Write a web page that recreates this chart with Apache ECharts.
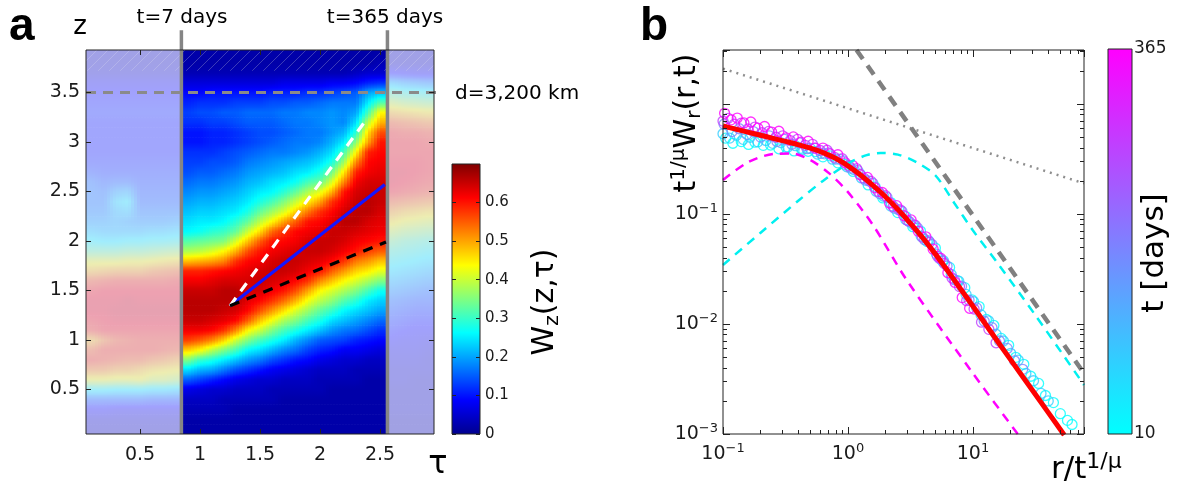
<!DOCTYPE html>
<html><head><meta charset="utf-8">
<script src="https://cdn.jsdelivr.net/npm/echarts@6/dist/echarts.min.js"></script>
<style>html,body{margin:0;padding:0;background:#fff}#c{width:1177px;height:487px}</style>
</head><body><div id="c"></div>
<script>
// ---------------- Panel a data ----------------
const tauCenters = [0.1,0.2,0.3,0.4,0.5,0.6,0.7,0.8,0.9,1.0,1.1,1.2,1.3,1.4,1.5,1.6,1.7,1.8,1.9,2.0,2.1,2.2,2.3,2.4,2.5,2.6,2.7,2.8,2.9];
const zCenters = [0.1,0.2,0.3,0.4,0.5,0.6,0.7,0.8,0.9,1.0,1.1,1.2,1.3,1.4,1.5,1.6,1.7,1.8,1.9,2.0,2.1,2.2,2.3,2.4,2.5,2.6,2.7,2.8,2.9,3.0,3.1,3.2,3.3,3.4,3.5,3.6,3.7,3.8,3.9];
// Wz values: one row per tau column, z ascending 0.1 .. 3.9
const wzByTau = [
[.03,.04,.08,.15,.27,.43,.52,.58,.55,.48,.58,.6,.62,.62,.6,.56,.48,.42,.33,.27,.23,.2,.18,.17,.17,.16,.13,.11,.1,.1,.1,.1,.11,.1,.09,.07,.04,.03,.03],
[.03,.04,.08,.15,.27,.43,.52,.57,.58,.53,.6,.61,.62,.62,.61,.57,.49,.42,.33,.26,.22,.2,.18,.17,.16,.14,.12,.11,.1,.1,.1,.1,.11,.1,.09,.07,.04,.03,.03],
[.03,.04,.07,.15,.26,.42,.5,.56,.58,.56,.6,.62,.63,.62,.61,.58,.5,.42,.33,.26,.22,.21,.22,.24,.2,.15,.12,.11,.1,.1,.1,.1,.11,.1,.09,.07,.04,.03,.03],
[.03,.04,.07,.15,.26,.42,.5,.55,.58,.57,.6,.62,.63,.63,.61,.58,.5,.43,.34,.27,.22,.2,.23,.26,.21,.15,.12,.11,.1,.1,.1,.1,.11,.1,.09,.07,.04,.03,.03],
[.03,.04,.07,.15,.26,.43,.48,.55,.58,.58,.6,.62,.63,.62,.61,.58,.5,.43,.34,.27,.22,.19,.17,.15,.14,.13,.12,.11,.1,.1,.1,.1,.11,.1,.09,.07,.04,.03,.03],
[.03,.04,.07,.14,.25,.4,.46,.53,.58,.58,.6,.62,.63,.62,.61,.58,.52,.44,.35,.28,.23,.19,.17,.15,.14,.13,.12,.11,.1,.1,.1,.1,.11,.1,.09,.07,.04,.03,.03],
[.03,.04,.07,.14,.25,.4,.45,.52,.57,.58,.6,.62,.63,.62,.61,.58,.53,.45,.36,.28,.23,.19,.17,.15,.14,.13,.12,.11,.1,.1,.1,.1,.11,.1,.09,.07,.04,.03,.03],
[.03,.04,.07,.14,.24,.38,.44,.5,.56,.58,.6,.62,.63,.62,.61,.59,.54,.46,.37,.29,.24,.2,.17,.15,.14,.13,.12,.11,.1,.1,.1,.1,.11,.1,.09,.07,.04,.03,.03],
[.02,.02,.03,.04,.07,.15,.24,.35,.47,.57,.62,.65,.66,.66,.65,.62,.59,.48,.38,.32,.26,.24,.22,.2,.18,.16,.14,.13,.12,.1,.1,.12,.13,.11,.09,.06,.03,.02,.02],
[.02,.02,.03,.04,.06,.13,.21,.3,.44,.55,.62,.65,.66,.66,.65,.62,.59,.49,.39,.33,.27,.25,.23,.21,.19,.17,.15,.13,.12,.1,.1,.12,.14,.12,.09,.06,.03,.02,.02],
[.02,.02,.03,.04,.05,.11,.2,.28,.39,.52,.61,.64,.66,.66,.65,.63,.6,.5,.41,.34,.29,.25,.23,.21,.19,.17,.15,.14,.12,.11,.11,.13,.14,.12,.1,.06,.03,.02,.02],
[.02,.02,.03,.03,.05,.09,.17,.25,.35,.47,.58,.63,.65,.66,.66,.64,.61,.52,.44,.35,.3,.26,.24,.22,.2,.18,.16,.14,.13,.11,.11,.13,.15,.12,.1,.06,.03,.02,.02],
[.02,.02,.02,.03,.04,.07,.14,.22,.31,.4,.52,.61,.64,.66,.66,.64,.62,.58,.49,.41,.33,.29,.25,.23,.21,.19,.17,.15,.14,.12,.12,.14,.15,.13,.1,.06,.03,.02,.02],
[.02,.02,.02,.03,.04,.06,.12,.19,.26,.35,.44,.55,.61,.63,.64,.64,.63,.61,.56,.48,.4,.33,.28,.25,.23,.21,.19,.17,.15,.13,.13,.15,.16,.13,.1,.06,.03,.02,.02],
[.02,.02,.02,.03,.04,.05,.1,.17,.24,.31,.4,.48,.56,.61,.64,.65,.64,.62,.6,.55,.46,.39,.33,.28,.25,.22,.2,.18,.16,.14,.14,.15,.16,.13,.1,.06,.03,.02,.02],
[.02,.02,.02,.03,.03,.05,.08,.14,.21,.28,.35,.43,.51,.58,.62,.64,.65,.64,.62,.6,.54,.44,.37,.31,.26,.24,.21,.19,.17,.15,.14,.15,.16,.14,.11,.06,.03,.02,.02],
[.02,.02,.02,.02,.03,.04,.07,.12,.18,.25,.31,.38,.46,.54,.6,.63,.65,.65,.63,.61,.58,.5,.41,.35,.29,.25,.22,.2,.17,.16,.15,.16,.17,.14,.11,.07,.03,.02,.02],
[.02,.02,.02,.02,.03,.04,.06,.1,.16,.21,.28,.35,.41,.49,.56,.61,.64,.65,.64,.62,.61,.55,.47,.4,.33,.27,.24,.21,.18,.17,.16,.17,.17,.15,.11,.07,.03,.02,.02],
[.02,.02,.02,.02,.03,.04,.05,.09,.13,.18,.25,.31,.37,.43,.5,.58,.62,.64,.65,.64,.62,.6,.53,.45,.38,.31,.25,.22,.19,.17,.17,.17,.18,.15,.12,.07,.03,.02,.02],
[.02,.02,.02,.02,.03,.03,.04,.07,.11,.15,.22,.28,.33,.39,.44,.52,.6,.63,.65,.65,.63,.61,.58,.5,.42,.33,.28,.24,.21,.18,.17,.18,.18,.16,.12,.07,.03,.02,.02],
[.02,.02,.02,.02,.02,.03,.04,.06,.1,.14,.19,.24,.3,.36,.41,.48,.55,.61,.64,.65,.65,.63,.61,.58,.49,.41,.34,.28,.24,.21,.19,.19,.19,.17,.13,.08,.03,.02,.02],
[.02,.02,.02,.02,.02,.03,.04,.05,.08,.13,.17,.22,.26,.32,.38,.44,.51,.58,.62,.64,.65,.66,.64,.62,.6,.52,.45,.37,.31,.25,.21,.18,.18,.17,.14,.08,.03,.02,.02],
[.02,.02,.02,.02,.02,.03,.03,.05,.08,.11,.16,.2,.24,.29,.35,.41,.47,.53,.6,.62,.64,.66,.66,.65,.64,.62,.59,.52,.44,.36,.29,.24,.2,.17,.15,.09,.04,.02,.02],
[.02,.02,.02,.02,.02,.02,.03,.04,.07,.1,.14,.18,.22,.25,.31,.38,.45,.51,.57,.61,.63,.64,.66,.66,.65,.64,.62,.61,.59,.5,.46,.39,.31,.25,.2,.11,.05,.02,.02],
[.02,.02,.02,.02,.02,.02,.03,.04,.06,.09,.12,.16,.2,.23,.27,.35,.42,.48,.55,.6,.62,.63,.64,.65,.65,.64,.63,.62,.61,.6,.56,.49,.44,.32,.22,.12,.05,.03,.02],
[.02,.02,.03,.03,.03,.04,.04,.05,.06,.08,.1,.12,.14,.16,.19,.22,.25,.28,.31,.35,.4,.45,.5,.55,.6,.62,.62,.61,.6,.6,.59,.55,.48,.4,.32,.22,.09,.03,.03],
[.02,.02,.03,.03,.03,.04,.04,.05,.06,.07,.09,.11,.13,.15,.18,.21,.24,.27,.3,.33,.38,.43,.48,.54,.59,.61,.62,.61,.6,.6,.58,.54,.47,.38,.3,.2,.08,.03,.03],
[.02,.02,.03,.03,.03,.03,.04,.05,.06,.07,.08,.1,.12,.14,.17,.2,.23,.26,.29,.32,.37,.42,.47,.53,.58,.6,.61,.61,.6,.6,.58,.53,.46,.37,.29,.19,.07,.03,.03],
[.02,.02,.03,.03,.03,.03,.04,.04,.05,.06,.08,.1,.12,.14,.16,.19,.22,.25,.28,.31,.36,.41,.46,.52,.57,.59,.6,.6,.6,.59,.57,.52,.45,.36,.28,.18,.07,.03,.03]
];
const tauRange = [0.05, 2.95];
const zRange = [0.05, 3.93];
const tauTicks = [0.5, 1, 1.5, 2, 2.5];
const zTicks = [0.5, 1, 1.5, 2, 2.5, 3, 3.5];
const wzRange = [0, 0.7];
const wzTicks = [0, 0.1, 0.2, 0.3, 0.4, 0.5, 0.6];
const windowTau = [0.845, 2.562];           // t = 7 days, t = 365 days
const windowLabels = ['t=7 days', 't=365 days'];
const windowLineTopZ = 4.13;
const hatchBottomZ = 3.72;
const depthZ = 3.5, depthLineEndTau = 3.03, depthLabel = 'd=3,200 km';
const fitStart = [1.25, 1.345];
const fitBlueEnd = [2.54, 2.57];
const fitWhiteEnd = [2.40, 3.25];
const fitBlackEnd = [2.55, 1.99];

// ---------------- Panel b data ----------------
const rRange = [0.1, 77.3];
const wrRange = [0.001, 3.1];
const rTicks = [0.1, 1, 10];
const wrTicks = [0.001, 0.01, 0.1];
const tRange = [10, 365];
const groupTimes = [10, 80, 180, 280, 365];
const scatterT10 = [[0.105,0.489],[0.12,0.44],[0.14,0.456],[0.16,0.429],[0.18,0.45],[0.21,0.421],[0.24,0.424],[0.28,0.392],[0.32,0.405],[0.37,0.375],[0.42,0.396],[0.48,0.372],[0.55,0.369],[0.63,0.331],[0.72,0.338],[0.83,0.292],[0.95,0.282],[1.1,0.244],[1.25,0.231],[1.45,0.184],[1.65,0.176],[1.9,0.14],[2.2,0.127],[2.5,0.103],[2.9,0.0948],[3.3,0.0767],[3.8,0.07],[4.3,0.0562],[5.0,0.049],[5.7,0.0372],[6.5,0.0327],[7.5,0.0248],[8.6,0.0214],[9.8,0.0166],[11.2,0.0144],[12.8,0.011],[14.7,0.0097],[16.8,0.0074],[19.3,0.0064],[22,0.00498],[25.5,0.0043],[29,0.00335],[33.5,0.00288],[38,0.00224],[44,0.00193],[50,0.00153],[57,0.00133],[62,0.00122]];
const scatterT80 = [[0.1,0.537],[0.113,0.49],[0.128,0.519],[0.145,0.478],[0.165,0.499],[0.19,0.453],[0.22,0.466],[0.25,0.439],[0.29,0.446],[0.33,0.406],[0.38,0.418],[0.43,0.387],[0.5,0.395],[0.57,0.351],[0.65,0.353],[0.75,0.315],[0.86,0.314],[0.98,0.269],[1.12,0.253],[1.28,0.213],[1.47,0.2],[1.68,0.161],[1.93,0.145],[2.2,0.118],[2.55,0.109],[2.9,0.0891],[3.35,0.0798],[3.85,0.0628],[4.4,0.0574],[5.1,0.0432],[5.8,0.0376],[6.7,0.0282],[7.7,0.0245],[8.8,0.0186],[10.1,0.016],[11.6,0.0121],[13.3,0.0107],[15.3,0.00807],[17.5,0.00701],[20,0.00541],[23,0.0047],[26.5,0.00355],[30.5,0.00305],[35,0.00234],[40,0.002]];
const scatterT180 = [[0.102,0.656],[0.118,0.562],[0.135,0.596],[0.155,0.53],[0.175,0.562],[0.2,0.501],[0.235,0.514],[0.27,0.457],[0.31,0.478],[0.355,0.431],[0.41,0.443],[0.47,0.393],[0.54,0.398],[0.61,0.356],[0.7,0.359],[0.8,0.316],[0.92,0.304],[1.05,0.261],[1.2,0.248],[1.38,0.203],[1.58,0.19],[1.8,0.153],[2.05,0.142],[2.35,0.113],[2.7,0.106],[3.1,0.0851],[3.6,0.0745],[4.1,0.0585],[4.7,0.0528],[5.4,0.0394],[6.2,0.0337],[7.1,0.0253],[8.1,0.0221],[9.3,0.0165],[10.7,0.014],[12.3,0.0106],[14.2,0.00927],[16.3,0.00701],[18.8,0.006],[21.5,0.00463],[25,0.00387]];
const scatterT280 = [[0.1,0.7],[0.11,0.741],[0.123,0.655],[0.14,0.67],[0.158,0.593],[0.18,0.617],[0.205,0.548],[0.232,0.564],[0.265,0.499],[0.3,0.514],[0.345,0.465],[0.395,0.478],[0.455,0.421],[0.52,0.43],[0.6,0.378],[0.68,0.38],[0.78,0.328],[0.9,0.318],[1.02,0.274],[1.17,0.259],[1.34,0.212],[1.53,0.198],[1.75,0.16],[2.0,0.147],[2.3,0.117],[2.62,0.109],[3.0,0.0871],[3.45,0.0791],[3.95,0.0614],[4.5,0.0555],[5.2,0.0413],[5.9,0.0355],[6.8,0.0262],[7.8,0.0219],[8.9,0.0163],[10.2,0.0137],[11.7,0.0104],[13.4,0.00895],[15.3,0.00675]];
const scatterT365 = [[0.103,0.824],[0.116,0.719],[0.13,0.746],[0.147,0.673],[0.167,0.687],[0.19,0.604],[0.215,0.625],[0.245,0.556],[0.28,0.566],[0.32,0.492],[0.365,0.502],[0.42,0.45],[0.48,0.459],[0.55,0.397],[0.63,0.398],[0.72,0.352],[0.83,0.346],[0.95,0.292],[1.09,0.276],[1.25,0.228],[1.43,0.215],[1.64,0.173],[1.88,0.157],[2.15,0.126],[2.45,0.119],[2.8,0.0966],[3.2,0.0883],[3.65,0.0698],[4.2,0.0621],[4.8,0.0479],[5.5,0.0397],[6.3,0.0293],[7.2,0.0239],[8.2,0.0174],[9.4,0.0139]];
const redFit = [[0.1,0.631],[0.126,0.592],[0.158,0.555],[0.2,0.52],[0.251,0.488],[0.316,0.457],[0.398,0.428],[0.501,0.397],[0.631,0.362],[0.794,0.321],[1.0,0.274],[1.26,0.226],[1.58,0.182],[2.0,0.143],[2.51,0.11],[3.16,0.0822],[3.98,0.0603],[5.01,0.0432],[6.31,0.0302],[7.94,0.0209],[10,0.0145],[15.8,0.0069],[25.1,0.0033],[39.8,0.00158],[53.7,0.00098]];
const cyanCurve = [[0.1,0.0344],[0.2,0.0676],[0.4,0.132],[0.63,0.2],[1.0,0.288],[1.41,0.343],[1.82,0.359],[2.51,0.347],[3.55,0.295],[5.01,0.224],[7.08,0.126],[10,0.0708],[15.8,0.0355],[31.6,0.012],[77.3,0.00279]];
const magentaCurve = [[0.1,0.204],[0.158,0.295],[0.251,0.351],[0.355,0.355],[0.501,0.309],[0.708,0.234],[1.0,0.158],[1.585,0.0794],[2.95,0.0251],[10,0.00355],[25,0.00087]];
const grayDotted = [[0.1,2.1],[77.3,0.19]];
const grayDashed = [[1.17,3.1],[77.3,0.00356]];

// sanity checks
if (wzByTau.length !== tauCenters.length) throw new Error('tau count ' + wzByTau.length);
wzByTau.forEach((c, i) => { if (c.length !== zCenters.length) throw new Error('col ' + i + ' has ' + c.length); });

const FONT = 'DejaVu Sans';
const INK = '#1a1a1a';
const jet = ['#00008f','#0000ff','#0080ff','#00ffff','#80ff80','#ffff00','#ff8000','#ff0000','#800000'];
const jetStops = jet.map((c, i) => ({offset: i / (jet.length - 1), color: c}));
const jetRGB = jet.map(h => [parseInt(h.slice(1, 3), 16), parseInt(h.slice(3, 5), 16), parseInt(h.slice(5, 7), 16)]);
function jetColor(v) {
  const f = Math.max(0, Math.min(1, (v - wzRange[0]) / (wzRange[1] - wzRange[0])));
  const p = f * (jetRGB.length - 1);
  const k = Math.min(Math.floor(p), jetRGB.length - 2);
  const r = p - k, a = jetRGB[k], b = jetRGB[k + 1];
  return 'rgb(' + Math.round(a[0] + (b[0] - a[0]) * r) + ',' + Math.round(a[1] + (b[1] - a[1]) * r) + ',' + Math.round(a[2] + (b[2] - a[2]) * r) + ')';
}
function coolColor(t) {
  const f = (t - tRange[0]) / (tRange[1] - tRange[0]);
  return 'rgb(' + Math.round(255 * f) + ',' + Math.round(255 * (1 - f)) + ',255)';
}
const nT = tauCenters.length, nZ = zCenters.length;
const heatData = [];
tauCenters.forEach((t, i) => zCenters.forEach((z, j) => heatData.push([t, z, wzByTau[i][j]])));
const dT = tauCenters[1] - tauCenters[0];
const dZ = zCenters[1] - zCenters[0];
function region(t) { return t < windowTau[0] ? 0 : (t > windowTau[1] ? 2 : 1); }

// smooth ("interp") shading of each grid cell, drawn from the cell and its neighbours
function renderCell(params, api) {
  const idx = params.dataIndex;
  const i = Math.floor(idx / nZ), j = idx % nZ;
  const t = api.value(0), z = api.value(1);
  const nb = di => { const ii = i + di; return (ii >= 0 && ii < nT && region(tauCenters[ii]) === region(t)) ? ii : i; };
  const iL = nb(-1), iR = nb(1);
  const jU = Math.min(j + 1, nZ - 1), jD = Math.max(j - 1, 0);
  const S = 4, children = [];
  for (let k = 0; k < S; k++) {
    const u = (k + 0.5) / S - 0.5;
    const i2 = u < 0 ? iL : iR, w = Math.abs(u);
    const col = jj => (1 - w) * wzByTau[i][jj] + w * wzByTau[i2][jj];
    const vc = col(j), vu = (vc + col(jU)) / 2, vd = (vc + col(jD)) / 2;
    const x0 = t - dT / 2 + k * dT / S;
    const a = api.coord([x0, z + dZ / 2]);
    const b = api.coord([x0 + dT / S, z - dZ / 2]);
    children.push({
      type: 'rect',
      shape: {x: a[0], y: a[1], width: b[0] - a[0] + 0.6, height: b[1] - a[1] + 0.6},
      style: {fill: new echarts.graphic.LinearGradient(0, 0, 0, 1, [
        {offset: 0, color: jetColor(vu)},
        {offset: 0.25, color: jetColor((vu + vc) / 2)},
        {offset: 0.5, color: jetColor(vc)},
        {offset: 0.75, color: jetColor((vd + vc) / 2)},
        {offset: 1, color: jetColor(vd)}
      ])}
    });
  }
  return {type: 'group', children: children};
}

function powLabel(v) {
  const e = Math.round(Math.log10(v));
  return '{b|10}{s|' + (e < 0 ? '\u2212' : '') + Math.abs(e) + '}';
}
const powRich = {
  b: {fontSize: 19, fontFamily: FONT, color: INK, lineHeight: 24},
  s: {fontSize: 13, fontFamily: FONT, color: INK, lineHeight: 13, verticalAlign: 'top'}
};
const tickStyle = {color: '#222', width: 1};
function boxX(grid, type, range, pos, labels, extra) {
  return Object.assign({
    gridIndex: grid, type: type, min: range[0], max: range[1], position: pos, z: 5,
    axisLine: {show: false},
    splitLine: {show: false},
    axisTick: {show: true, inside: true, length: 5, lineStyle: tickStyle},
    axisLabel: {show: labels}
  }, extra || {});
}

const chart = echarts.init(document.getElementById('c'), null, {renderer: 'canvas'});
const gridBorder = {show: true, backgroundColor: 'transparent', borderColor: '#222', borderWidth: 1, z: 10, outerBoundsMode: 'none', containLabel: false};

const option = {
  animation: false,
  textStyle: {fontFamily: FONT},
  grid: [
    Object.assign({left: 86, top: 50, width: 348, height: 384}, gridBorder),
    Object.assign({left: 452, top: 164, width: 28, height: 270}, gridBorder),
    Object.assign({left: 723, top: 50, width: 361, height: 384}, gridBorder),
    Object.assign({left: 1108, top: 49, width: 24, height: 385}, gridBorder)
  ],
  xAxis: [
    boxX(0, 'value', tauRange, 'bottom', true, {
      axisTick: {show: true, inside: true, length: 5, lineStyle: tickStyle, customValues: tauTicks},
      axisLabel: {show: true, customValues: tauTicks, margin: 12, fontSize: 19, color: INK, fontFamily: FONT}
    }),
    boxX(0, 'value', tauRange, 'top', false, {
      axisTick: {show: true, inside: true, length: 5, lineStyle: tickStyle, customValues: tauTicks}
    }),
    {gridIndex: 1, type: 'category', data: ['cb'], show: false},
    boxX(2, 'log', rRange, 'bottom', true, {
      logBase: 10,
      axisTick: {show: true, inside: true, length: 7, lineStyle: tickStyle},
      minorTick: {show: true, splitNumber: 9, length: 4, lineStyle: tickStyle},
      axisLabel: {show: true, customValues: rTicks, margin: 8, formatter: powLabel, rich: powRich}
    }),
    boxX(2, 'log', rRange, 'top', false, {
      logBase: 10,
      axisTick: {show: true, inside: true, length: 7, lineStyle: tickStyle},
      minorTick: {show: true, splitNumber: 9, length: 4, lineStyle: tickStyle}
    }),
    {gridIndex: 3, type: 'category', data: ['cb'], show: false}
  ],
  yAxis: [
    boxX(0, 'value', zRange, 'left', true, {
      axisTick: {show: true, inside: true, length: 5, lineStyle: tickStyle, customValues: zTicks},
      axisLabel: {show: true, customValues: zTicks, margin: 6, fontSize: 19, color: INK, fontFamily: FONT}
    }),
    boxX(0, 'value', zRange, 'right', false, {
      axisTick: {show: true, inside: true, length: 5, lineStyle: tickStyle, customValues: zTicks}
    }),
    boxX(1, 'value', wzRange, 'right', true, {
      axisTick: {show: true, inside: true, length: 4, lineStyle: tickStyle, customValues: wzTicks},
      axisLabel: {show: true, customValues: wzTicks, margin: 5, fontSize: 15, color: INK, fontFamily: FONT}
    }),
    boxX(1, 'value', wzRange, 'left', false, {
      axisTick: {show: true, inside: true, length: 4, lineStyle: tickStyle, customValues: wzTicks}
    }),
    boxX(2, 'log', wrRange, 'left', true, {
      logBase: 10,
      axisTick: {show: true, inside: true, length: 7, lineStyle: tickStyle},
      minorTick: {show: true, splitNumber: 9, length: 4, lineStyle: tickStyle},
      axisLabel: {show: true, customValues: wrTicks, margin: 5, formatter: powLabel, rich: powRich}
    }),
    boxX(2, 'log', wrRange, 'right', false, {
      logBase: 10,
      axisTick: {show: true, inside: true, length: 7, lineStyle: tickStyle},
      minorTick: {show: true, splitNumber: 9, length: 4, lineStyle: tickStyle}
    }),
    boxX(3, 'value', tRange, 'right', true, {
      axisTick: {show: false},
      axisLabel: {show: true, customValues: tRange, margin: 2, fontSize: 17, color: INK, fontFamily: FONT}
    })
  ],
  series: [
    {
      type: 'custom', xAxisIndex: 0, yAxisIndex: 0, clip: true, silent: true,
      data: heatData, encode: {x: 0, y: 1}, renderItem: renderCell
    },
    {
      // hatched band at the top of panel a
      type: 'custom', xAxisIndex: 0, yAxisIndex: 0, clip: true, silent: true,
      data: [[tauRange[0], tauRange[1], hatchBottomZ, zRange[1]]],
      encode: {x: [0, 1], y: [2, 3]},
      renderItem: function (params, api) {
        const a = api.coord([api.value(0), api.value(3)]);
        const b = api.coord([api.value(1), api.value(2)]);
        const h = b[1] - a[1], lines = [];
        for (let x = a[0] - h; x < b[0]; x += 11) {
          lines.push({type: 'line', shape: {x1: x, y1: b[1], x2: x + h, y2: a[1]}, style: {stroke: 'rgba(120,120,200,0.5)', lineWidth: 1}});
        }
        return {type: 'group', children: lines};
      }
    },
    {
      type: 'custom', xAxisIndex: 0, yAxisIndex: 0, clip: true, silent: true,
      data: [[tauRange[0], windowTau[0], zRange[0], zRange[1]], [windowTau[1], tauRange[1], zRange[0], zRange[1]]],
      encode: {x: [0, 1], y: [2, 3]},
      renderItem: function (params, api) {
        const a = api.coord([api.value(0), api.value(3)]);
        const b = api.coord([api.value(1), api.value(2)]);
        return {type: 'rect', shape: {x: a[0], y: a[1], width: b[0] - a[0], height: b[1] - a[1]},
          style: {fill: 'rgba(230,230,252,0.70)'}};
      }
    },
    {type: 'line', xAxisIndex: 0, yAxisIndex: 0, clip: false, silent: true, symbol: 'none',
      data: [[windowTau[0], zRange[0]], [windowTau[0], windowLineTopZ]], lineStyle: {color: '#858585', width: 3.5}},
    {type: 'line', xAxisIndex: 0, yAxisIndex: 0, clip: false, silent: true, symbol: 'none',
      data: [[windowTau[1], zRange[0]], [windowTau[1], windowLineTopZ]], lineStyle: {color: '#858585', width: 3.5}},
    {type: 'line', xAxisIndex: 0, yAxisIndex: 0, clip: false, silent: true, symbol: 'none',
      data: [[tauRange[0], depthZ], [depthLineEndTau, depthZ]], lineStyle: {color: '#8a8a8a', width: 3, type: [10, 7]}},
    {type: 'line', xAxisIndex: 0, yAxisIndex: 0, silent: true, symbol: 'none',
      data: [fitStart, fitBlueEnd], lineStyle: {color: '#1515ff', width: 3.2}},
    {type: 'line', xAxisIndex: 0, yAxisIndex: 0, silent: true, symbol: 'none',
      data: [fitStart, fitWhiteEnd], lineStyle: {color: '#ffffff', width: 3.2, type: [10, 8]}},
    {type: 'line', xAxisIndex: 0, yAxisIndex: 0, silent: true, symbol: 'none',
      data: [fitStart, fitBlackEnd], lineStyle: {color: '#000000', width: 3.2, type: [10, 8]}},
    {type: 'bar', xAxisIndex: 2, yAxisIndex: 2, silent: true, barWidth: '100%', data: [wzRange[1]],
      itemStyle: {color: new echarts.graphic.LinearGradient(0, 1, 0, 0, jetStops)}},
    {type: 'bar', xAxisIndex: 5, yAxisIndex: 6, silent: true, barWidth: '100%', data: [tRange[1]], clip: true,
      itemStyle: {color: new echarts.graphic.LinearGradient(0, 1, 0, 0, [{offset: 0, color: coolColor(tRange[0])}, {offset: 1, color: coolColor(tRange[1])}])}}
  ].concat([scatterT10, scatterT80, scatterT180, scatterT280, scatterT365].map((d, k) => ({
    type: 'scatter', xAxisIndex: 3, yAxisIndex: 4, silent: true, symbol: 'circle', symbolSize: 10,
    data: d, itemStyle: {color: 'rgba(0,0,0,0)', borderColor: coolColor(groupTimes[k]), borderWidth: 1.3}
  }))).concat([
    {type: 'line', xAxisIndex: 3, yAxisIndex: 4, silent: true, symbol: 'none', smooth: 0.3,
      data: magentaCurve, lineStyle: {color: '#ff00ff', width: 2.5, type: [9, 7]}},
    {type: 'line', xAxisIndex: 3, yAxisIndex: 4, silent: true, symbol: 'none', smooth: 0.3,
      data: cyanCurve, lineStyle: {color: '#00f0f0', width: 2.5, type: [9, 7]}},
    {type: 'line', xAxisIndex: 3, yAxisIndex: 4, silent: true, symbol: 'none',
      data: grayDotted, lineStyle: {color: '#8f8f8f', width: 2.5, type: [2, 5]}},
    {type: 'line', xAxisIndex: 3, yAxisIndex: 4, silent: true, symbol: 'none',
      data: grayDashed, lineStyle: {color: '#808080', width: 4.5, type: [11, 8]}},
    {type: 'line', xAxisIndex: 3, yAxisIndex: 4, silent: true, symbol: 'none', smooth: 0.2,
      data: redFit, lineStyle: {color: '#ff0000', width: 5}}
  ]),
  graphic: [
    {type: 'text', x: 9, y: 27, style: {text: 'a', fontSize: 46, fontWeight: 'bold', fontFamily: 'Liberation Sans', fill: '#000', align: 'left', verticalAlign: 'middle'}},
    {type: 'text', x: 640, y: 27, style: {text: 'b', fontSize: 46, fontWeight: 'bold', fontFamily: 'Liberation Sans', fill: '#000', align: 'left', verticalAlign: 'middle'}},
    {type: 'text', x: 80, y: 27, style: {text: 'z', fontSize: 26, fontFamily: FONT, fill: '#000', align: 'center', verticalAlign: 'middle'}},
    {type: 'text', x: 438, y: 465, style: {text: '\u03c4', fontSize: 32, fontFamily: FONT, fill: '#000', align: 'center', verticalAlign: 'middle'}},
    {type: 'text', x: 182, y: 18, style: {text: windowLabels[0], fontSize: 20, fontFamily: FONT, fill: '#000', align: 'center', verticalAlign: 'middle'}},
    {type: 'text', x: 385, y: 18, style: {text: windowLabels[1], fontSize: 20, fontFamily: FONT, fill: '#000', align: 'center', verticalAlign: 'middle'}},
    {type: 'text', x: 455, y: 94, style: {text: depthLabel, fontSize: 20, fontFamily: FONT, fill: '#000', align: 'left', verticalAlign: 'middle'}},
    {type: 'text', x: 545, y: 302, rotation: Math.PI / 2, style: {
      text: '{w|W}{s|z}{w|(z,\u03c4)}', align: 'center', verticalAlign: 'middle',
      rich: {w: {fontSize: 30, fontFamily: FONT, color: '#000', lineHeight: 36},
             s: {fontSize: 20, fontFamily: FONT, color: '#000', lineHeight: 16, verticalAlign: 'bottom'}}}},
    {type: 'text', x: 687, y: 123, rotation: Math.PI / 2, style: {
      text: '{w|t}{p|1/\u03bc}{w|W}{s|r}{w|(r,t)}', align: 'center', verticalAlign: 'middle',
      rich: {w: {fontSize: 30, fontFamily: FONT, color: '#000', lineHeight: 36},
             p: {fontSize: 20, fontFamily: FONT, color: '#000', lineHeight: 16, verticalAlign: 'top'},
             s: {fontSize: 20, fontFamily: FONT, color: '#000', lineHeight: 16, verticalAlign: 'bottom'}}}},
    {type: 'text', x: 1155, y: 253, rotation: Math.PI / 2, style: {text: 't [days]', fontSize: 31, fontFamily: FONT, fill: '#000', align: 'center', verticalAlign: 'middle'}},
    {type: 'text', x: 1051, y: 470, style: {
      text: '{w|r/t}{p|1/\u03bc}', align: 'left', verticalAlign: 'middle',
      rich: {w: {fontSize: 31, fontFamily: FONT, color: '#000', lineHeight: 38},
             p: {fontSize: 22, fontFamily: FONT, color: '#000', lineHeight: 18, verticalAlign: 'top'}}}}
  ]
};
chart.setOption(option);
</script></body></html>
